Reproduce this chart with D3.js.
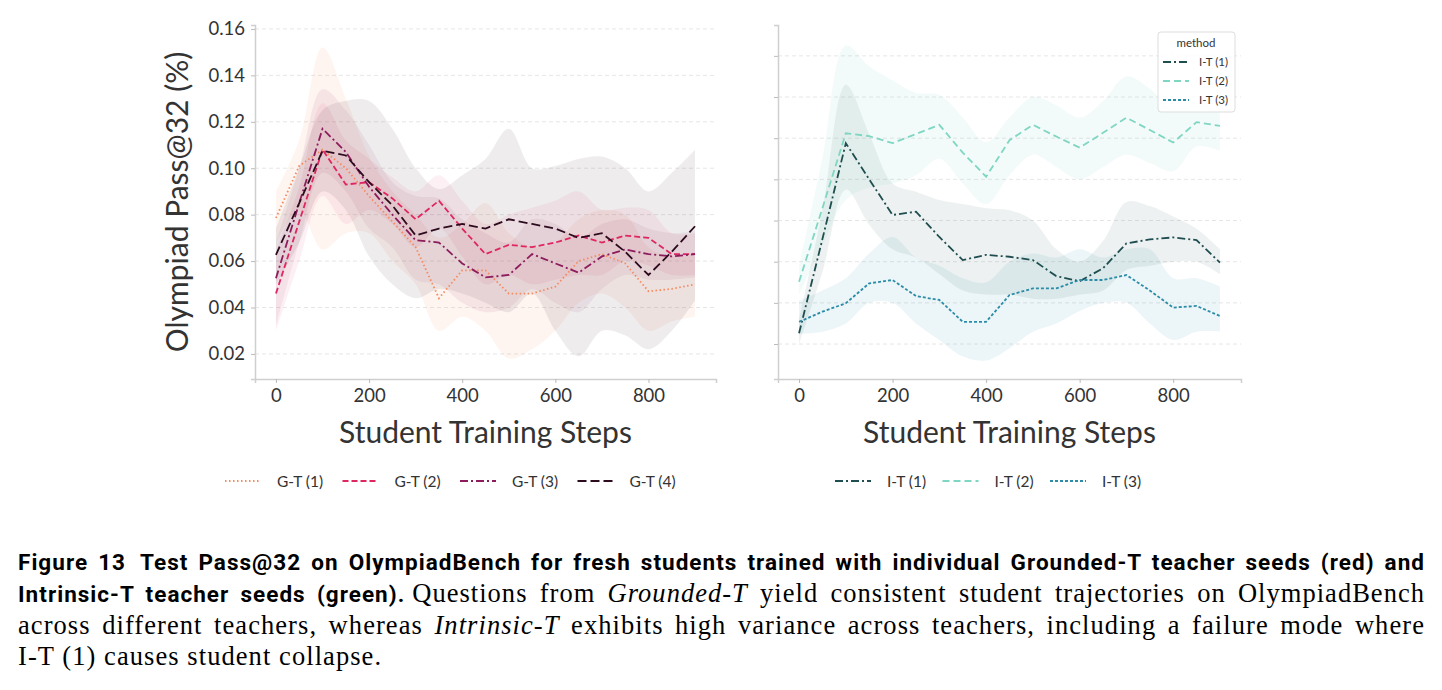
<!DOCTYPE html>
<html>
<head>
<meta charset="utf-8">
<script src="https://cdn.jsdelivr.net/npm/d3@7"></script>
<style>
  body { margin: 0; background: #fff; }
  svg { display: block; }
</style>
</head>
<body>
<svg id="chart" width="1442" height="690"></svg>
<script>
// training steps shared by every run
const steps = [0, 50, 100, 150, 200, 250, 300, 350, 400, 450, 500, 550, 600, 650, 700, 750, 800, 850, 900]
const xTicks = [0, 200, 400, 600, 800]
const yTicks = [0.02, 0.04, 0.06, 0.08, 0.10, 0.12, 0.14, 0.16]

// Grounded-T teachers
const gtNames = ['G-T (1)', 'G-T (2)', 'G-T (3)', 'G-T (4)']
const gt1 = [0.0786, 0.101, 0.108, 0.100, 0.088, 0.077, 0.066, 0.044, 0.056, 0.056, 0.046, 0.046, 0.049, 0.060, 0.063, 0.059, 0.047, 0.048, 0.050]
const gt2 = [0.046, 0.077, 0.108, 0.093, 0.094, 0.087, 0.078, 0.086, 0.074, 0.063, 0.067, 0.066, 0.068, 0.071, 0.068, 0.071, 0.070, 0.063, 0.063]
const gt3 = [0.0526, 0.085, 0.117, 0.107, 0.092, 0.080, 0.069, 0.068, 0.059, 0.053, 0.054, 0.063, 0.059, 0.055, 0.062, 0.065, 0.063, 0.062, 0.063]
const gt4 = [0.0627, 0.085, 0.1075, 0.1055, 0.094, 0.084, 0.071, 0.074, 0.076, 0.074, 0.078, 0.076, 0.074, 0.070, 0.072, 0.064, 0.054, 0.064, 0.075]
const gt1Hi = [0.090, 0.112, 0.152, 0.130, 0.105, 0.090, 0.080, 0.070, 0.076, 0.085, 0.072, 0.066, 0.068, 0.078, 0.082, 0.080, 0.066, 0.062, 0.064]
const gt1Lo = [0.068, 0.082, 0.065, 0.072, 0.072, 0.060, 0.050, 0.030, 0.036, 0.030, 0.018, 0.022, 0.030, 0.042, 0.046, 0.040, 0.030, 0.034, 0.036]
const gt2Hi = [0.064, 0.092, 0.128, 0.112, 0.104, 0.096, 0.090, 0.097, 0.086, 0.076, 0.080, 0.083, 0.086, 0.090, 0.082, 0.083, 0.082, 0.072, 0.072]
const gt2Lo = [0.030, 0.060, 0.088, 0.076, 0.082, 0.076, 0.066, 0.074, 0.062, 0.050, 0.054, 0.050, 0.052, 0.054, 0.054, 0.060, 0.058, 0.054, 0.054]
const gt3Hi = [0.068, 0.100, 0.134, 0.125, 0.110, 0.094, 0.088, 0.087, 0.078, 0.072, 0.068, 0.078, 0.076, 0.070, 0.076, 0.078, 0.074, 0.072, 0.073]
const gt3Lo = [0.032, 0.068, 0.098, 0.090, 0.074, 0.066, 0.052, 0.050, 0.042, 0.038, 0.040, 0.048, 0.042, 0.038, 0.048, 0.054, 0.052, 0.052, 0.053]
const gt4Hi = [0.074, 0.100, 0.125, 0.129, 0.129, 0.117, 0.100, 0.091, 0.097, 0.104, 0.117, 0.100, 0.101, 0.104, 0.105, 0.100, 0.090, 0.098, 0.108]
const gt4Lo = [0.050, 0.068, 0.090, 0.082, 0.062, 0.050, 0.044, 0.048, 0.046, 0.042, 0.038, 0.046, 0.030, 0.019, 0.030, 0.028, 0.022, 0.030, 0.043]

// Intrinsic-T teachers
const itNames = ['I-T (1)', 'I-T (2)', 'I-T (3)']
const it1 = [0.0252, 0.071, 0.1176, 0.100, 0.0827, 0.0843, 0.072, 0.0608, 0.0633, 0.0624, 0.0608, 0.053, 0.0505, 0.0568, 0.0689, 0.0708, 0.0718, 0.0705, 0.0595]
const it2 = [0.0503, 0.086, 0.1224, 0.121, 0.1176, 0.122, 0.1265, 0.113, 0.1013, 0.119, 0.1265, 0.1208, 0.1154, 0.1226, 0.130, 0.124, 0.1179, 0.1278, 0.126]
const it3 = [0.0308, 0.0357, 0.0398, 0.0495, 0.0511, 0.0433, 0.0414, 0.0308, 0.0308, 0.0438, 0.047, 0.047, 0.0511, 0.0511, 0.0535, 0.046, 0.0377, 0.0385, 0.0336]
const it1Hi = [0.032, 0.085, 0.146, 0.122, 0.098, 0.094, 0.090, 0.088, 0.086, 0.085, 0.080, 0.066, 0.060, 0.070, 0.089, 0.087, 0.082, 0.076, 0.066]
const it1Lo = [0.020, 0.055, 0.095, 0.078, 0.066, 0.062, 0.054, 0.046, 0.044, 0.044, 0.042, 0.042, 0.044, 0.046, 0.056, 0.058, 0.060, 0.060, 0.054]
const it2Hi = [0.058, 0.110, 0.165, 0.155, 0.148, 0.142, 0.141, 0.130, 0.118, 0.130, 0.140, 0.136, 0.130, 0.138, 0.150, 0.144, 0.134, 0.138, 0.132]
const it2Lo = [0.044, 0.068, 0.090, 0.096, 0.098, 0.102, 0.110, 0.098, 0.088, 0.102, 0.112, 0.106, 0.100, 0.106, 0.112, 0.108, 0.104, 0.116, 0.114]
const it3Hi = [0.041, 0.046, 0.052, 0.064, 0.072, 0.062, 0.058, 0.052, 0.050, 0.060, 0.064, 0.062, 0.066, 0.062, 0.066, 0.066, 0.052, 0.052, 0.048]
const it3Lo = [0.025, 0.026, 0.030, 0.040, 0.040, 0.030, 0.022, 0.014, 0.012, 0.018, 0.026, 0.030, 0.036, 0.040, 0.040, 0.030, 0.022, 0.026, 0.026]

const font = 'Lato, "Open Sans", sans-serif'
const textColor = '#333'
const spineColor = '#cfcfcf'

const svg = d3.select('#chart')
svg.append('rect').attr('width', 1442).attr('height', 690).attr('fill', '#fff')

const gtSeries = [
  { name: gtNames[0], vals: gt1, hi: gt1Hi, lo: gt1Lo, color: '#f68a5e', dash: '1.5,2.5', bandOpacity: 0.09 },
  { name: gtNames[1], vals: gt2, hi: gt2Hi, lo: gt2Lo, color: '#df2660', dash: '6,3', bandOpacity: 0.07 },
  { name: gtNames[2], vals: gt3, hi: gt3Hi, lo: gt3Lo, color: '#8c1c5c', dash: '8,3,2,3', bandOpacity: 0.07 },
  { name: gtNames[3], vals: gt4, hi: gt4Hi, lo: gt4Lo, color: '#2c0b1e', dash: '9,4', bandOpacity: 0.08 }
]
const itSeries = [
  { name: itNames[0], vals: it1, hi: it1Hi, lo: it1Lo, color: '#1f4e50', dash: '8,3,2,3', bandOpacity: 0.08 },
  { name: itNames[1], vals: it2, hi: it2Hi, lo: it2Lo, color: '#7fd6c2', dash: '7,4', bandOpacity: 0.1 },
  { name: itNames[2], vals: it3, hi: it3Hi, lo: it3Lo, color: '#2a8ca7', dash: '3,2', bandOpacity: 0.09 }
]

function drawPanel(opts) {
  const x = d3.scaleLinear().domain([-45, 945]).range([opts.left, opts.right])
  const y = d3.scaleLinear().domain(opts.yDomain).range([379, 25])
  const g = svg.append('g')

  // horizontal dashed grid
  g.selectAll('.grid').data(yTicks).join('line')
    .attr('x1', opts.left).attr('x2', opts.right)
    .attr('y1', d => y(d)).attr('y2', d => y(d))
    .attr('stroke', '#e6e6e6').attr('stroke-width', 1).attr('stroke-dasharray', '4,3')

  const area = d3.area()
    .x((d, i) => x(steps[i]))
    .y0(d => y(d[0])).y1(d => y(d[1]))
    .curve(d3.curveCatmullRom)
  const line = d3.line()
    .x((d, i) => x(steps[i]))
    .y(d => y(d))

  opts.series.forEach(s => {
    g.append('path')
      .attr('d', area(s.lo.map((v, i) => [v, s.hi[i]])))
      .attr('fill', s.color).attr('fill-opacity', s.bandOpacity)
  })
  opts.series.forEach(s => {
    g.append('path')
      .attr('d', line(s.vals))
      .attr('fill', 'none').attr('stroke', s.color)
      .attr('stroke-width', 1.8).attr('stroke-dasharray', s.dash)
  })

  // axes
  const yAxis = g.append('g').attr('transform', `translate(${opts.left},0)`)
    .call(d3.axisLeft(y).tickValues(yTicks).tickSize(4).tickPadding(6)
      .tickFormat(opts.yLabels ? d3.format('.2f') : ''))
  const xAxis = g.append('g').attr('transform', 'translate(0,379)')
    .call(d3.axisBottom(x).tickValues(xTicks).tickSize(4).tickPadding(6))
  ;[yAxis, xAxis].forEach(a => {
    a.select('.domain').attr('stroke', spineColor).attr('stroke-width', 1.5)
    a.selectAll('.tick line').attr('stroke', '#bbb')
    a.selectAll('.tick text').attr('fill', textColor).attr('font-size', 18.5).attr('font-family', font)
  })

  g.append('text')
    .attr('x', (opts.left + opts.right) / 2).attr('y', 443)
    .attr('text-anchor', 'middle').attr('fill', textColor)
    .attr('font-size', 30).attr('font-family', font)
    .text('Student Training Steps')
  return { x, y }
}

drawPanel({ left: 255, right: 716, yDomain: [0.0092, 0.1617], series: gtSeries, yLabels: true })
drawPanel({ left: 778, right: 1241, yDomain: [0.003, 0.175], series: itSeries, yLabels: false })

svg.append('text')
  .attr('transform', 'translate(188,202) rotate(-90)')
  .attr('text-anchor', 'middle').attr('fill', textColor)
  .attr('font-size', 30).attr('font-family', font)
  .text('Olympiad Pass@32 (%)')

// bottom legends
function bottomLegend(series, startX, gap) {
  const lg = svg.append('g')
  series.forEach((s, i) => {
    const x0 = startX + i * gap
    lg.append('line').attr('x1', x0).attr('x2', x0 + 36).attr('y1', 481).attr('y2', 481)
      .attr('stroke', s.color).attr('stroke-width', 1.8).attr('stroke-dasharray', s.dash)
    lg.append('text').attr('x', x0 + 52).attr('y', 486.5)
      .attr('fill', textColor).attr('font-size', 15.5).attr('font-family', font)
      .text(s.name)
  })
}
bottomLegend(gtSeries, 225, 117.5)
bottomLegend(itSeries, 835, 107.5)

// inner legend on the right panel
const inner = svg.append('g')
inner.append('rect').attr('x', 1158).attr('y', 32).attr('width', 77).attr('height', 80).attr('rx', 3)
  .attr('fill', '#fff').attr('fill-opacity', 0.85).attr('stroke', '#ddd')
inner.append('text').attr('x', 1196).attr('y', 47).attr('text-anchor', 'middle')
  .attr('fill', textColor).attr('font-size', 11.5).attr('font-family', font).text('method')
itSeries.forEach((s, i) => {
  const yy = 62 + i * 19
  inner.append('line').attr('x1', 1163).attr('x2', 1189).attr('y1', yy).attr('y2', yy)
    .attr('stroke', s.color).attr('stroke-width', 1.8).attr('stroke-dasharray', s.dash)
  inner.append('text').attr('x', 1199).attr('y', yy + 4)
    .attr('fill', textColor).attr('font-size', 11.5).attr('font-family', font).text(s.name)
})

// caption: fonts here are narrower than the paper's, so widen letters a bit
// and leave the rest of the justification to word spacing
const sans = 'Roboto, "Liberation Sans", sans-serif'
const serif = '"Liberation Serif", "DejaVu Serif", serif'
const capLeft = 18
const capRight = 1425
const cap = svg.append('g').attr('fill', '#000')

function justify(textSel, letterShare) {
  const node = textSel.node()
  const txt = node.textContent
  const spaces = (txt.match(/ /g) || []).length
  const excess = capRight - capLeft - node.getBBox().width
  const ls = excess * letterShare / txt.length
  textSel.attr('letter-spacing', ls)
  const rest = capRight - capLeft - node.getBBox().width
  if (spaces > 0) textSel.attr('word-spacing', rest / spaces)
  return ls
}

const l1 = cap.append('text').attr('x', capLeft).attr('y', 570).attr('font-family', sans)
  .attr('font-size', 22.5).attr('font-weight', 700)
l1.append('tspan').text('Figure 13')
l1.append('tspan').attr('dx', 14).text('Test Pass@32 on OlympiadBench for fresh students trained with individual Grounded-T teacher seeds (red) and')
justify(l1, 0.7)

const l2 = cap.append('text').attr('x', capLeft).attr('y', 602)
l2.append('tspan').attr('font-family', sans).attr('font-size', 22.5).attr('font-weight', 700).text('Intrinsic-T teacher seeds (green).')
l2.append('tspan').attr('font-family', serif).attr('font-size', 26.5).attr('dx', 7).text('Questions from ')
l2.append('tspan').attr('font-family', serif).attr('font-size', 26.5).attr('font-style', 'italic').text('Grounded-T')
l2.append('tspan').attr('font-family', serif).attr('font-size', 26.5).text(' yield consistent student trajectories on OlympiadBench')
justify(l2, 0.7)

const l3 = cap.append('text').attr('x', capLeft).attr('y', 634).attr('font-family', serif).attr('font-size', 26.5)
l3.append('tspan').text('across different teachers, whereas ')
l3.append('tspan').attr('font-style', 'italic').text('Intrinsic-T')
l3.append('tspan').text(' exhibits high variance across teachers, including a failure mode where')
const serifSpacing = justify(l3, 0.7)

cap.append('text').attr('x', capLeft).attr('y', 665).attr('font-family', serif).attr('font-size', 26.5)
  .attr('letter-spacing', serifSpacing)
  .text('I-T (1) causes student collapse.')
</script>
</body>
</html>
